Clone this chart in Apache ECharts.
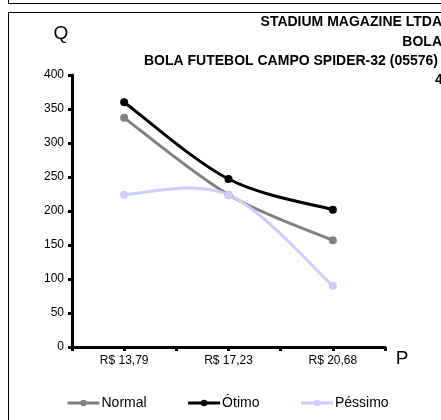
<!DOCTYPE html>
<html>
<head>
<meta charset="utf-8">
<script src="https://cdn.jsdelivr.net/npm/echarts@6/dist/echarts.min.js"></script>
<style>
  html, body { margin: 0; padding: 0; background: #fff; }
  #chart { width: 441px; height: 420px; }
</style>
</head>
<body>
<div id="chart"></div>
<script>
// Price points (x categories) and demand quantities per scenario
const prices = ['R$ 13,79', 'R$ 17,23', 'R$ 20,68'];
const normal = [337, 224, 157];
const otimo = [360, 247, 202];
const pessimo = [224, 224, 90];
const yTicks = [0, 50, 100, 150, 200, 250, 300, 350, 400];
const titleLines = [
  'STADIUM MAGAZINE LTDA',
  'BOLA',
  'BOLA FUTEBOL CAMPO SPIDER-32 (05576)',
  '4'
];

// Each price sits in the middle of its own two-unit slot on the x scale
const pos = i => 2 * i + 1;
const toPoints = arr => arr.map((v, i) => [pos(i), v]);

const FONT = '"Liberation Sans", Arial, sans-serif';
const COLORS = { Normal: '#808080', 'Ótimo': '#000000', 'Péssimo': '#ccccff' };

const chart = echarts.init(document.getElementById('chart'), null, { renderer: 'canvas' });

// Smoothed curve through the data (Catmull-Rom style cubic Bezier, 1/6 tension)
function curveSeries(name, data) {
  const pts = toPoints(data);
  return {
    name: name + ' curve',
    type: 'custom',
    data: pts,
    z: 1,
    silent: true,
    renderItem: (params, api) => {
      if (params.dataIndex !== 0) return null;
      const P = pts.map(p => api.coord(p));
      const n = P.length;
      const at = k => P[Math.max(0, Math.min(n - 1, k))];
      let d = 'M' + P[0][0] + ',' + P[0][1];
      for (let i = 0; i < n - 1; i++) {
        const a = at(i - 1), b = at(i), c = at(i + 1), e = at(i + 2);
        const c1x = b[0] + (c[0] - a[0]) / 6, c1y = b[1] + (c[1] - a[1]) / 6;
        const c2x = c[0] - (e[0] - b[0]) / 6, c2y = c[1] - (e[1] - b[1]) / 6;
        d += ' C' + c1x + ',' + c1y + ' ' + c2x + ',' + c2y + ' ' + c[0] + ',' + c[1];
      }
      return {
        type: 'path',
        shape: { pathData: d },
        style: { fill: null, stroke: COLORS[name], lineWidth: 3, lineJoin: 'round' }
      };
    },
    animation: false
  };
}

// Markers and legend entries for each scenario
const markerSeries = (name, data) => ({
  name,
  type: 'line',
  data: toPoints(data),
  z: 3,
  symbol: 'circle',
  symbolSize: 8,
  lineStyle: { color: COLORS[name], width: 3, opacity: 0 },
  itemStyle: { color: COLORS[name] },
  animation: false
});

chart.setOption({
  animation: false,
  grid: { left: 72, right: 56, top: 75, bottom: 73 },
  xAxis: {
    type: 'value',
    min: 0,
    max: 2 * prices.length,
    interval: 1,
    axisLine: { show: true, onZero: false, lineStyle: { color: '#000', width: 3 } },
    axisTick: { show: true, length: 4, lineStyle: { color: '#000', width: 3 } },
    splitLine: { show: false },
    axisLabel: {
      color: '#000',
      fontFamily: FONT,
      fontSize: 12,
      margin: 8,
      showMinLabel: true,
      showMaxLabel: true,
      formatter: v => (v % 2 === 1 ? prices[(v - 1) / 2] : '')
    }
  },
  yAxis: {
    type: 'value',
    min: yTicks[0],
    max: yTicks[yTicks.length - 1],
    interval: yTicks[1] - yTicks[0],
    axisLine: { show: true, lineStyle: { color: '#000', width: 3 } },
    axisTick: { show: true, length: 4, lineStyle: { color: '#000', width: 3 } },
    splitLine: { show: false },
    axisLabel: { color: '#000', fontFamily: FONT, fontSize: 12, margin: 8 }
  },
  legend: {
    bottom: 10,
    left: 66,
    padding: 0,
    itemWidth: 32,
    itemHeight: 8,
    itemGap: 40,
    textStyle: { color: '#000', fontFamily: FONT, fontSize: 14, padding: [0, 0, 0, -3] },
    data: ['Normal', 'Ótimo', 'Péssimo'].map(n => ({
      name: n,
      lineStyle: { color: COLORS[n], width: 3, opacity: 1 }
    }))
  },
  series: [
    curveSeries('Normal', normal),
    curveSeries('Ótimo', otimo),
    curveSeries('Péssimo', pessimo),
    markerSeries('Normal', normal),
    markerSeries('Ótimo', otimo),
    markerSeries('Péssimo', pessimo)
  ],
  graphic: [
    // frame edges
    { type: 'line', shape: { x1: 8, y1: 3.5, x2: 441, y2: 3.5 }, style: { stroke: '#000', lineWidth: 1 } },
    { type: 'line', shape: { x1: 8.5, y1: 0, x2: 8.5, y2: 3.5 }, style: { stroke: '#000', lineWidth: 1 } },
    { type: 'line', shape: { x1: 8, y1: 12.5, x2: 441, y2: 12.5 }, style: { stroke: '#000', lineWidth: 1 } },
    { type: 'line', shape: { x1: 8.5, y1: 12.5, x2: 8.5, y2: 420 }, style: { stroke: '#000', lineWidth: 1 } },
    // axis names
    { type: 'text', x: 61, y: 34, style: { text: 'Q', font: '19px ' + FONT, fill: '#000', textAlign: 'center', textVerticalAlign: 'middle' } },
    { type: 'text', x: 402, y: 359, style: { text: 'P', font: '19px ' + FONT, fill: '#000', textAlign: 'center', textVerticalAlign: 'middle' } },
    // title block
    { type: 'text', x: 442, y: 22, style: { text: titleLines[0], font: 'bold 14px ' + FONT, fill: '#000', textAlign: 'right', textVerticalAlign: 'middle' } },
    { type: 'text', x: 442, y: 42, style: { text: titleLines[1], font: 'bold 14px ' + FONT, fill: '#000', textAlign: 'right', textVerticalAlign: 'middle' } },
    { type: 'text', x: 438, y: 61, style: { text: titleLines[2], font: 'bold 14px ' + FONT, fill: '#000', textAlign: 'right', textVerticalAlign: 'middle' } },
    { type: 'text', x: 435, y: 80, style: { text: titleLines[3], font: 'bold 14px ' + FONT, fill: '#000', textAlign: 'left', textVerticalAlign: 'middle' } }
  ]
});
</script>
</body>
</html>
